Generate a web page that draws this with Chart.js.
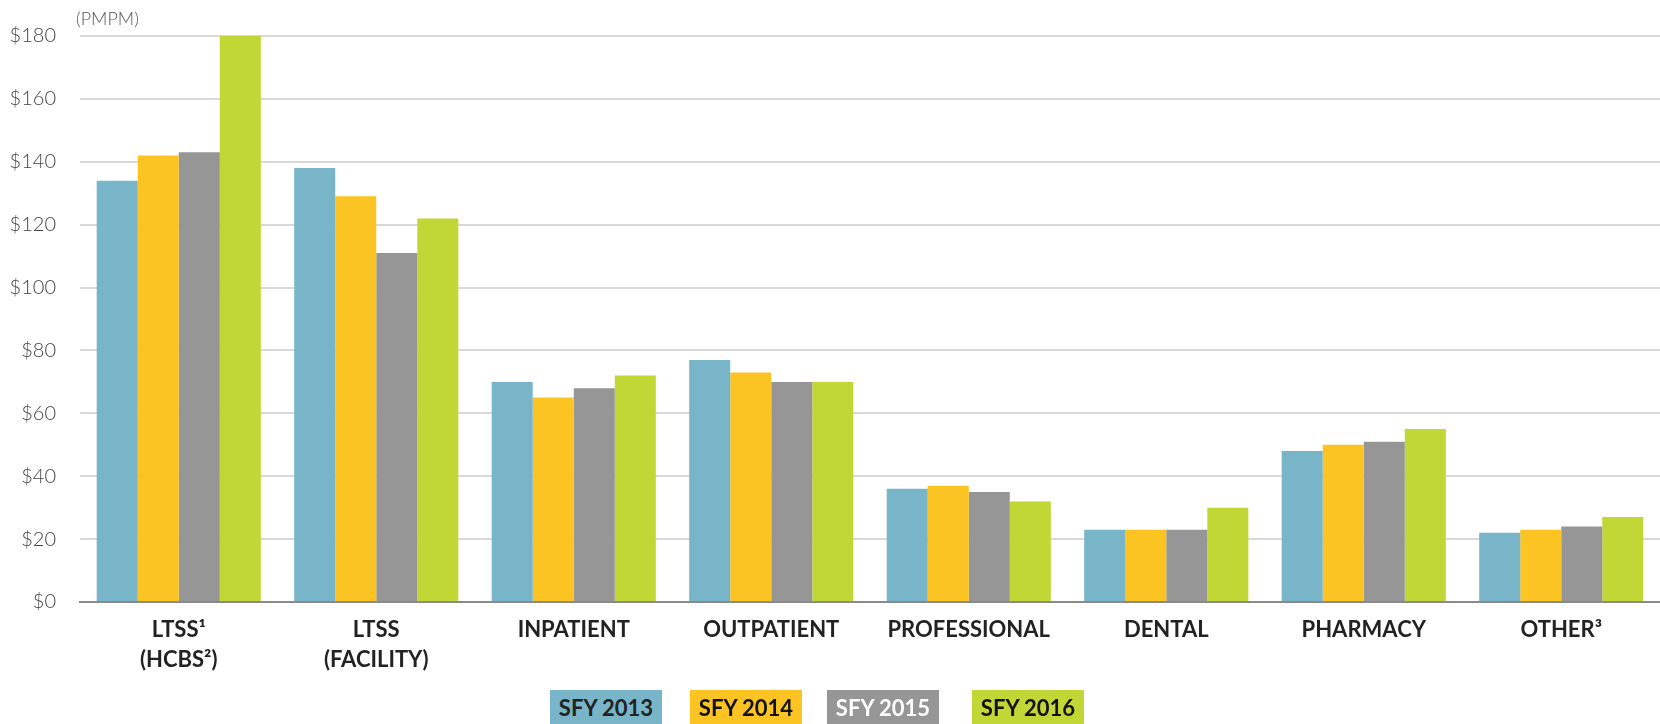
<!DOCTYPE html>
<html lang="en">
<head>
  <meta charset="UTF-8">
  <title>PMPM by Service Category</title>
  <script src="https://cdn.jsdelivr.net/npm/chart.js"></script>
  <style>
    body { margin: 0; background: #fff; overflow: hidden; }
    .wrap { position: relative; width: 1660px; height: 724px; }
    .leyenda span {
      position: absolute; top: 690px; width: 112px; height: 36px;
      font: bold 22px Lato, "Open Sans", sans-serif; text-align: center; line-height: 36px;
    }
  </style>
</head>
<body>
  <div class="wrap">
    <canvas id="grafico" width="1660" height="724"></canvas>
    <div class="leyenda" id="leyenda"></div>
  </div>

  <script>
    // datos
    const categorias = [
      ['LTSS\u00B9', '(HCBS\u00B2)'],
      ['LTSS', '(FACILITY)'],
      'INPATIENT', 'OUTPATIENT', 'PROFESSIONAL', 'DENTAL', 'PHARMACY', 'OTHER\u00B3'
    ];
    const series = ['SFY 2013', 'SFY 2014', 'SFY 2015', 'SFY 2016'];
    const sfy2013 = [134, 138, 70, 77, 36, 23, 48, 22];
    const sfy2014 = [142, 129, 65, 73, 37, 23, 50, 23];
    const sfy2015 = [143, 111, 68, 70, 35, 23, 51, 24];
    const sfy2016 = [180, 122, 72, 70, 32, 30, 55, 27];
    const yTicks = [0, 20, 40, 60, 80, 100, 120, 140, 160, 180];

    const colores = ['#78b5c8', '#fbc423', '#969696', '#c1d736'];
    const textoLeyenda = ['#222', '#111', '#fff', '#111'];
    const leyendaX = [550, 690, 827, 972];
    const valores = [sfy2013, sfy2014, sfy2015, sfy2016];

    // etiqueta (PMPM) arriba del eje
    const unidad = {
      id: 'unidad',
      afterDraw(chart) {
        const ctx = chart.ctx;
        ctx.save();
        ctx.font = '300 18px Lato, "Open Sans", sans-serif';
        ctx.fillStyle = '#555';
        ctx.textAlign = 'left';
        ctx.textBaseline = 'alphabetic';
        ctx.fillText('(PMPM)', chart.chartArea.left - 4, 25);
        ctx.restore();
      }
    };

    new Chart(document.getElementById('grafico'), {
      type: 'bar',
      data: {
        labels: categorias,
        datasets: series.map((s, i) => ({
          label: s,
          data: valores[i],
          backgroundColor: colores[i],
          borderWidth: 0,
          categoryPercentage: 0.831,
          barPercentage: 1
        }))
      },
      options: {
        responsive: false,
        animation: false,
        devicePixelRatio: 1,
        layout: { padding: { top: 36, right: 0, left: 0, bottom: 0 } },
        plugins: {
          legend: { display: false },
          tooltip: { enabled: false }
        },
        scales: {
          x: {
            grid: { display: false },
            border: { display: true, color: '#8a8a8a', width: 2 },
            ticks: {
              color: '#222',
              padding: 5,
              font: { family: 'Lato, "Open Sans", sans-serif', size: 22, weight: 'bold', lineHeight: 1.35 }
            },
            afterFit(scale) { scale.height = 122; }
          },
          y: {
            min: 0,
            max: 180,
            afterBuildTicks(scale) { scale.ticks = yTicks.map(v => ({ value: v })); },
            grid: { color: '#d9d9d9', lineWidth: 2, drawTicks: false },
            border: { display: false },
            ticks: {
              color: '#444',
              padding: 24,
              font: { family: 'Lato, "Open Sans", sans-serif', size: 20, weight: '300' },
              callback: v => '$' + v
            },
            afterFit(scale) { scale.width = 80; }
          }
        }
      },
      plugins: [unidad]
    });

    // leyenda con texto dentro de las cajas
    const leyenda = document.getElementById('leyenda');
    series.forEach((s, i) => {
      const el = document.createElement('span');
      el.textContent = s;
      el.style.left = leyendaX[i] + 'px';
      el.style.background = colores[i];
      el.style.color = textoLeyenda[i];
      leyenda.appendChild(el);
    });
  </script>
</body>
</html>
